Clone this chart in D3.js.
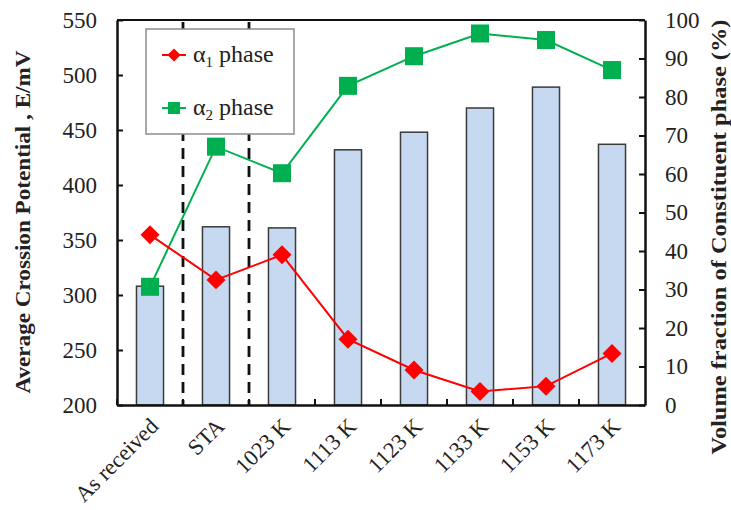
<!DOCTYPE html>
<html>
<head>
<meta charset="utf-8">
<script src="https://cdn.jsdelivr.net/npm/d3@7"></script>
<style>
  body { margin: 0; background: #fff; }
  text { font-family: "Liberation Serif", "Times New Roman", serif; fill: #222; }
</style>
</head>
<body>
<svg id="chart" width="731" height="510"></svg>
<script>
// chart data
const categories = ['As received', 'STA', '1023 K', '1113 K', '1123 K', '1133 K', '1153 K', '1173 K'];
const potential = [308, 362, 361, 432, 448, 470, 489, 437];      // bars, left axis (mV)
const alpha1 = [44.2, 32.5, 39.0, 17.1, 9.1, 3.5, 4.9, 13.4];     // red diamonds, right axis (%)
const alpha2 = [30.7, 67.1, 60.2, 82.9, 90.6, 96.5, 94.8, 87.0];  // green squares, right axis (%)
const leftTicks = [200, 250, 300, 350, 400, 450, 500, 550];
const rightTicks = [0, 10, 20, 30, 40, 50, 60, 70, 80, 90, 100];

const svg = d3.select('#chart');
const plot = { left: 117, right: 645, top: 20, bottom: 405 };

let x = d3.scaleBand()
  .domain(categories)
  .range([plot.left, plot.right]);

let yL = d3.scaleLinear()
  .domain([200, 550])
  .range([plot.bottom, plot.top]);

let yR = d3.scaleLinear()
  .domain([0, 100])
  .range([plot.bottom, plot.top]);

const barW = x.bandwidth() * 0.41;
const cx = (c) => x(c) + x.bandwidth() / 2;

// bars
svg.append('g')
  .selectAll('rect')
  .data(categories)
  .enter()
  .append('rect')
  .attr('x', (d) => cx(d) - barW / 2)
  .attr('y', (d, i) => yL(potential[i]))
  .attr('width', barW)
  .attr('height', (d, i) => plot.bottom - yL(potential[i]))
  .style('fill', '#c6d9f1')
  .style('stroke', '#3a3a3a')
  .style('stroke-width', 1.5);

// dashed separators
svg.append('g')
  .selectAll('line')
  .data([categories[1], categories[2]])
  .enter()
  .append('line')
  .attr('x1', (d) => x(d)).attr('x2', (d) => x(d))
  .attr('y1', plot.top + 2).attr('y2', plot.bottom)
  .style('stroke', '#111')
  .style('stroke-width', 2.8)
  .style('stroke-dasharray', '11,7');

// frame + axes
svg.append('line')
  .attr('x1', plot.left).attr('x2', plot.right)
  .attr('y1', plot.top).attr('y2', plot.top)
  .style('stroke', '#111').style('stroke-width', 2);

let xAxis = svg.append('g')
  .attr('transform', `translate(0,${plot.bottom})`)
  .call(d3.axisBottom(x).tickSizeInner(-6).tickSizeOuter(0).tickFormat(''));
xAxis.selectAll('.tick line')
  .attr('transform', `translate(${-x.bandwidth() / 2},0)`);

let yAxisL = svg.append('g')
  .attr('transform', `translate(${plot.left},0)`)
  .call(d3.axisLeft(yL).tickValues(leftTicks).tickSizeInner(-6).tickSizeOuter(0).tickPadding(20));

let yAxisR = svg.append('g')
  .attr('transform', `translate(${plot.right},0)`)
  .call(d3.axisRight(yR).tickValues(rightTicks).tickSizeInner(-6).tickSizeOuter(0).tickPadding(20));

[xAxis, yAxisL, yAxisR].forEach((a) => {
  a.select('.domain').style('stroke', '#111').style('stroke-width', 2.5);
  a.selectAll('.tick line').style('stroke', '#111').style('stroke-width', 2);
  a.selectAll('.tick text')
    .style('font-family', '"Liberation Serif", serif')
    .style('font-size', '23px')
    .style('fill', '#222');
});

// rotated category labels
svg.append('g')
  .selectAll('text')
  .data(categories)
  .enter()
  .append('text')
  .attr('transform', (d) => `translate(${cx(d) + 6},${plot.bottom + 19}) rotate(-45)`)
  .attr('text-anchor', 'end')
  .attr('dominant-baseline', 'middle')
  .style('font-size', '22.5px')
  .text((d) => d);

// phase lines
let line = (vals) => d3.line()
  .x((d, i) => cx(categories[i]))
  .y((d) => yR(d))(vals);

svg.append('path')
  .attr('d', line(alpha2))
  .style('fill', 'none').style('stroke', '#00b050').style('stroke-width', 2);
svg.append('path')
  .attr('d', line(alpha1))
  .style('fill', 'none').style('stroke', '#ff0000').style('stroke-width', 2);

const diamond = d3.symbol().type(d3.symbolDiamond2).size(230);

svg.append('g')
  .selectAll('path')
  .data(alpha1)
  .enter()
  .append('path')
  .attr('d', diamond)
  .attr('transform', (d, i) => `translate(${cx(categories[i])},${yR(d)})`)
  .style('fill', '#ff0000');

svg.append('g')
  .selectAll('rect')
  .data(alpha2)
  .enter()
  .append('rect')
  .attr('x', (d, i) => cx(categories[i]) - 9)
  .attr('y', (d) => yR(d) - 9)
  .attr('width', 18).attr('height', 18)
  .style('fill', '#00b050');

// legend
let legend = svg.append('g');
legend.append('rect')
  .attr('x', 146).attr('y', 29)
  .attr('width', 148).attr('height', 105)
  .style('fill', '#fff').style('stroke', '#8c8c8c').style('stroke-width', 1.5);

const legendItems = [
  { color: '#ff0000', sub: '1', y: 55, shape: 'diamond' },
  { color: '#00b050', sub: '2', y: 108, shape: 'square' }
];
legendItems.forEach((it) => {
  legend.append('line')
    .attr('x1', 162).attr('x2', 186)
    .attr('y1', it.y).attr('y2', it.y)
    .style('stroke', it.color).style('stroke-width', 2);
  if (it.shape === 'diamond') {
    legend.append('path')
      .attr('d', d3.symbol().type(d3.symbolDiamond2).size(110))
      .attr('transform', `translate(174,${it.y})`)
      .style('fill', it.color);
  } else {
    legend.append('rect')
      .attr('x', 168).attr('y', it.y - 6)
      .attr('width', 12).attr('height', 12)
      .style('fill', it.color);
  }
  let t = legend.append('text')
    .attr('x', 193).attr('y', it.y + 7)
    .style('font-size', '24px');
  t.append('tspan').text('α');
  t.append('tspan').attr('dy', 5).style('font-size', '15px').text(it.sub);
  t.append('tspan').attr('dy', -5).text(' phase');
});

// axis titles
svg.append('text')
  .attr('transform', 'translate(30,222) rotate(-90)')
  .attr('text-anchor', 'middle')
  .attr('textLength', 343)
  .attr('lengthAdjust', 'spacingAndGlyphs')
  .style('font-weight', 'bold')
  .style('font-size', '21px')
  .text('Average Crossion Potential , E/mV');

svg.append('text')
  .attr('transform', 'translate(726,237) rotate(-90)')
  .attr('text-anchor', 'middle')
  .attr('textLength', 435)
  .attr('lengthAdjust', 'spacingAndGlyphs')
  .style('font-weight', 'bold')
  .style('font-size', '22px')
  .text('Volume fraction of Constituent phase (%)');
</script>
</body>
</html>
